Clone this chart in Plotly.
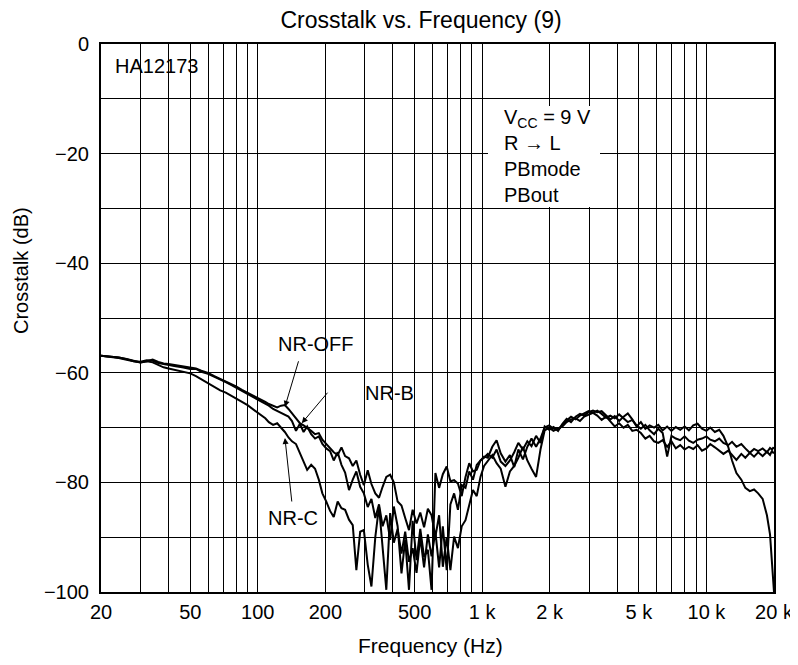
import plotly.graph_objects as go

# ---------------- data ----------------
FREQ = [
    20, 22, 24, 26, 28, 30, 32, 34, 36, 38,
    40, 43, 46, 50, 53, 56, 60, 64, 68, 72,
    76, 80, 85, 90, 95, 100, 104, 108, 112, 117,
    122, 127, 132, 137, 142, 148, 154, 160, 166, 173,
    180, 187, 194, 202, 210, 218, 227, 236, 245, 255,
    265, 275, 286, 297, 309, 321, 334, 347, 360, 374,
    389, 404, 420, 437, 454, 472, 490, 510, 530, 551,
    573, 595, 619, 643, 668, 695, 722, 750, 780, 811,
    843, 876, 910, 946, 983, 1020, 1060, 1110, 1160, 1210,
    1270, 1330, 1390, 1450, 1520, 1590, 1660, 1740, 1820, 1900,
    1990, 2080, 2180, 2280, 2380, 2490, 2610, 2730, 2850, 2980,
    3120, 3260, 3410, 3570, 3730, 3900, 4080, 4270, 4460, 4670,
    4880, 5100, 5340, 5580, 5840, 6100, 6380, 6680, 6980, 7300,
    7640, 7990, 8350, 8730, 9130, 9550, 9990, 10400, 10900, 11400,
    11900, 12500, 13000, 13600, 14300, 14900, 15600, 16300, 17000, 17800,
    18600, 19200, 19600, 19900, 20000,
]

NR_OFF = [
    -56.9, -57.0, -57.2, -57.5, -57.8, -58.1, -57.9, -57.6, -58.0, -58.3,
    -58.4, -58.6, -58.8, -59.0, -59.2, -59.6, -60.0, -60.6, -61.1, -61.5,
    -62.0, -62.5, -63.1, -63.6, -64.1, -64.6, -65.0, -65.3, -65.7, -66.0,
    -66.3, -66.0, -65.9, -66.6, -67.4, -68.3, -69.2, -69.6, -70.0, -70.6,
    -71.2, -71.0, -72.2, -73.0, -73.8, -74.5, -75.0, -73.6, -75.2, -75.6,
    -77.0, -76.0, -78.6, -80.5, -77.8, -80.3, -82.0, -82.8, -80.8, -79.0,
    -78.6, -80.0, -83.5, -84.2, -86.5, -88.7, -85.0, -87.5, -85.5, -88.2,
    -84.8, -86.0, -89.9, -86.0, -95.4, -90.0, -96.0, -89.9, -92.0, -88.0,
    -86.9, -84.0, -81.4, -82.5, -79.0, -77.0, -76.0, -75.0, -76.5, -77.5,
    -80.8, -78.0, -77.0, -75.5, -73.5, -76.0, -77.5, -79.0, -74.0, -70.5,
    -70.0, -70.6, -70.2, -69.8, -69.0, -68.5, -68.3, -68.8, -68.0, -67.6,
    -67.3, -67.8, -68.6, -68.0, -69.0, -69.8, -69.2, -70.0, -69.5, -70.6,
    -70.4, -71.0, -72.0, -71.5, -72.5, -72.8, -72.3, -73.5, -72.5, -73.8,
    -73.2, -74.0, -73.5, -73.9, -73.2, -74.2, -73.8, -73.0, -73.6, -74.3,
    -74.8, -74.2, -75.0, -75.9, -74.8, -75.5, -74.6, -75.3, -74.5, -75.2,
    -74.4, -75.0, -74.2, -74.7, -74.5,
]

NR_B = [
    -56.9, -57.1, -57.3, -57.6, -57.9, -58.0, -57.7, -57.8, -58.2, -58.4,
    -58.6, -58.8, -59.0, -59.3, -59.3, -59.8, -60.2, -60.7, -61.3, -61.7,
    -62.2, -62.7, -63.3, -63.8, -64.3, -64.9, -65.2, -65.6, -66.0, -66.6,
    -67.0, -67.3, -67.6, -68.0, -68.8, -70.6, -69.3, -70.8, -69.8, -71.2,
    -72.0, -71.6, -73.0, -73.8, -74.3, -76.0, -74.5, -76.8, -78.2, -81.4,
    -79.5, -78.0, -80.8, -82.0, -84.5, -83.0, -86.5, -84.0, -88.0, -86.0,
    -90.5, -84.4, -88.0, -96.6, -90.5, -99.6, -87.0, -94.2, -88.5, -93.6,
    -92.3, -99.6, -78.3, -81.0, -78.5, -77.1, -79.8, -79.6, -80.2, -82.5,
    -79.0, -76.5, -78.0, -77.7, -76.0, -75.3, -75.5, -73.5, -72.3, -74.7,
    -76.2, -75.0, -77.2, -74.0, -75.8, -73.5, -72.0, -73.5, -72.0, -70.0,
    -69.6, -70.2, -70.4, -69.5, -68.7, -68.0, -68.5, -67.8, -67.4, -67.0,
    -67.3, -66.9, -67.5, -68.2, -67.8, -68.3, -67.6, -68.4, -69.0, -68.6,
    -69.6, -70.2, -69.5, -70.5, -71.2, -70.2, -71.0, -75.3, -71.5, -72.0,
    -72.3, -71.6, -72.4, -72.8, -72.2, -72.0, -71.6, -72.2, -72.5, -72.0,
    -72.8, -73.2, -72.6, -73.5, -73.0, -73.8, -74.6, -73.9, -74.3, -73.8,
    -74.5, -73.7, -74.0, -73.6, -73.9,
]

NR_C = [
    -56.9, -57.0, -57.2, -57.5, -57.9, -58.1, -57.9, -58.1, -58.6, -59.0,
    -59.2, -59.5, -59.8, -60.1, -60.6, -61.2, -61.8, -62.5, -63.2, -63.6,
    -64.2, -64.7, -65.3, -65.9, -66.6, -67.4, -67.8, -68.3, -69.0, -69.5,
    -69.2, -70.0, -70.8, -71.8, -72.5, -73.0, -74.7, -76.2, -77.7, -76.8,
    -77.5, -79.5, -82.0, -83.5, -85.2, -86.3, -83.5, -84.7, -85.0, -86.8,
    -87.8, -96.0, -89.0, -88.7, -95.0, -99.0, -90.0, -84.4, -92.0, -99.6,
    -85.6, -91.0, -88.5, -93.0, -89.0, -94.5, -92.0, -96.5, -90.0, -95.5,
    -89.5, -93.5, -89.0, -95.5, -88.0, -96.0, -84.0, -82.0, -85.0, -80.5,
    -81.0, -78.0, -79.5, -76.8, -76.0, -75.5, -74.8, -75.5, -74.0, -76.2,
    -77.0, -76.0, -74.5, -72.8, -74.0, -72.5, -73.4, -71.5, -72.8, -69.8,
    -70.4, -69.9, -70.6, -69.3, -68.4, -69.0, -68.0, -67.5, -67.8, -67.2,
    -66.9, -67.2, -67.0, -67.7, -68.5, -67.9, -68.8, -68.0, -67.4, -68.5,
    -69.8, -69.0, -70.2, -69.6, -70.0, -69.5, -70.5, -69.8, -70.6, -69.9,
    -70.4, -69.8, -70.5, -69.6, -69.3, -70.2, -70.6, -70.0, -70.8, -70.4,
    -71.5, -73.5, -76.0, -78.3, -79.5, -81.0, -81.6, -81.3, -82.0, -83.0,
    -86.0, -89.5, -94.0, -98.0, -100.0,
]

X_TICKS = [20, 50, 100, 200, 500, 1000, 2000, 5000, 10000, 20000]
X_TICKTEXT = ["20", "50", "100", "200", "500", "1 k", "2 k", "5 k", "10 k", "20 k"]
X_MINOR = [30, 40, 60, 70, 80, 90, 300, 400, 600, 700, 800, 900,
           3000, 4000, 6000, 7000, 8000, 9000]
Y_TICKS = [-100, -90, -80, -70, -60, -50, -40, -30, -20, -10, 0]
Y_TICKTEXT = ["\u2212100", "", "\u221280", "", "\u221260", "", "\u221240", "",
              "\u221220", "", "0"]

assert len(FREQ) == len(NR_OFF) == len(NR_B) == len(NR_C)

# ---------------- figure ----------------
FONT = "Liberation Sans, Arial, Helvetica, sans-serif"
PAGE_OFF = 8          # default body margin of the html page
W, H = 790, 657
L, R, T, B = 93, 24, 36, 73
PW, PH = W - L - R, H - T - B


def px(x):  # window pixel -> paper x
    return (x - PAGE_OFF - L) / PW


def py(y):  # window pixel -> paper y
    return (H - B - (y - PAGE_OFF)) / PH


fig = go.Figure()
for name, vals in (("NR-OFF", NR_OFF), ("NR-B", NR_B), ("NR-C", NR_C)):
    fig.add_trace(go.Scatter(x=FREQ, y=vals, mode="lines", name=name,
                             line=dict(color="black", width=2),
                             showlegend=False))

fig.update_layout(
    width=W, height=H,
    margin=dict(l=L, r=R, t=T, b=B, autoexpand=False),
    paper_bgcolor="white", plot_bgcolor="white",
    font=dict(family=FONT, color="black", size=20),
    title=dict(text="Crosstalk vs. Frequency (9)", font=dict(size=23),
               xref="paper", x=px(421), xanchor="center",
               yref="container", y=1 - (20 - PAGE_OFF) / H, yanchor="middle"),
)

fig.update_xaxes(
    type="log", range=[1.30103, 4.30103],
    tickmode="array", tickvals=X_TICKS, ticktext=X_TICKTEXT,
    ticks="", ticklabelstandoff=1,
    showgrid=True, gridcolor="black", gridwidth=1,
    minor=dict(tickmode="array", tickvals=X_MINOR, showgrid=True,
               gridcolor="black", gridwidth=1, ticks=""),
    showline=True, mirror=True, linecolor="black", linewidth=2,
    zeroline=False, tickfont=dict(size=20), automargin=False,
)
fig.update_yaxes(
    range=[-100, 0], tickmode="array", tickvals=Y_TICKS, ticktext=Y_TICKTEXT,
    ticks="", ticklabelstandoff=6,
    showgrid=True, gridcolor="black", gridwidth=1,
    showline=True, mirror=True, linecolor="black", linewidth=2,
    zeroline=False, tickfont=dict(size=20), automargin=False,
)

# white box behind the condition text
fig.add_shape(type="rect", xref="paper", yref="paper",
              x0=px(488), x1=px(600), y0=py(207), y1=py(106),
              fillcolor="white", line=dict(width=0), layer="above")

ann = [
    dict(text="HA12173", x=px(113), y=py(66), xanchor="left", yanchor="middle"),
    dict(text="V<sub>CC</sub> = 9 V<br>R \u2192 L<br>PBmode<br>PBout",
         x=px(502), y=py(156), xanchor="left", yanchor="middle", align="left"),
    dict(text="NR-OFF", x=px(316), y=py(344), xanchor="center", yanchor="middle"),
    dict(text="NR-B", x=px(389), y=py(393), xanchor="center", yanchor="middle"),
    dict(text="NR-C", x=px(293), y=py(518), xanchor="center", yanchor="middle"),
    dict(text="Frequency (Hz)", x=px(430), y=py(645), xanchor="center",
         yanchor="middle", font=dict(size=21)),
    dict(text="Crosstalk (dB)", x=px(9), y=py(271), xanchor="left",
         yanchor="middle", textangle=-90, font=dict(size=20), borderpad=0),
]
for a in ann:
    fig.add_annotation(xref="paper", yref="paper", showarrow=False, **a)

# arrows pointing at the curves (tip in data coords; log axis uses log10)
arrows = [
    (2.121, -66.2, 14, -47),
    (2.196, -69.2, 27, -32),
    (2.121, -71.9, 7, 65),
]
for xa, ya, dx, dy in arrows:
    fig.add_annotation(x=xa, y=ya, xref="x", yref="y", text="",
                       showarrow=True, ax=dx, ay=dy, axref="pixel", ayref="pixel",
                       arrowhead=2, arrowsize=1.2, arrowwidth=1, arrowcolor="black")

fig.write_html("out.html")
